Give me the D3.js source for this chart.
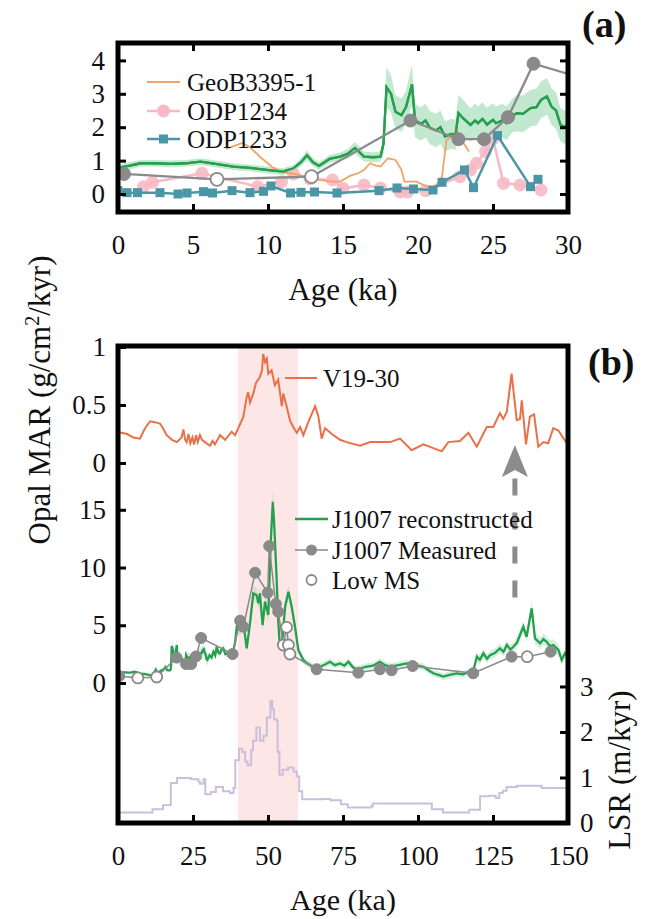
<!DOCTYPE html>
<html>
<head>
<meta charset="utf-8">
<script src="https://cdn.jsdelivr.net/npm/d3@7"></script>
<style>
    body { margin: 0; background: #fff; }
    svg text { font-family: "Liberation Serif", "Times New Roman", serif; fill: #111; }
</style>
</head>
<body>
<svg id="chart" width="647" height="919"></svg>
<script>
'use strict';

// ---- panel (a) records, [age ka, opal MAR] ----
let geoB = [[7.2,1.35],[7.8,1.45],[8.3,1.53],[8.8,1.4],[9.5,1.1],[10.3,0.8],[11.0,0.65],[11.8,0.6],[12.5,0.52],[13.2,0.45],[14.0,0.38],[14.8,0.37],[15.5,0.55],[16.0,0.62],[16.4,0.72],[16.8,0.92],[17.2,0.85],[17.5,0.82],[18.0,1.07],[18.5,1.02],[18.9,0.72],[19.1,0.37],[19.9,0.37],[20.6,0.22],[21.0,0.2],[21.4,0.35],[21.6,0.52],[21.9,1.62],[22.2,1.7],[22.6,1.92],[22.9,1.62],[23.4,1.27]];
let odp1234 = [[1.7,0.22],[2.3,0.35],[5.6,0.62],[9.3,0.22],[10.9,0.37],[11.7,0.6],[12.8,0.45],[14.3,0.42],[15.0,0.17],[16.4,0.27],[17.5,0.18],[18.8,0.06],[19.3,0.06],[20.5,0.1],[22.8,0.52],[23.5,0.72],[23.9,0.92],[24.5,1.27],[25.0,1.65],[25.7,0.32],[26.8,0.27],[28.2,0.12]];
let odp1233 = [[0.0,0.1],[0.6,0.04],[1.3,0.04],[2.8,0.04],[4.0,0.0],[4.6,0.03],[5.7,0.07],[6.3,0.03],[7.6,0.1],[8.8,0.04],[9.7,0.08],[10.2,0.24],[11.5,0.03],[12.2,0.05],[13.1,0.06],[14.6,0.03],[17.4,0.1],[18.6,0.18],[19.7,0.15],[21.0,0.12],[21.6,0.35],[23.1,0.72],[23.7,0.19],[25.3,1.75],[27.5,0.22],[28.0,0.44]];

// ---- J1007, shared by both panels ----
// reconstructed: [age, value, band half width]
let j1007Rec = [[0,0.78,0.1],[0.8,0.85,0.1],[1.5,0.92,0.1],[2.5,0.92,0.1],[3.5,0.9,0.1],[4.5,0.92,0.1],[5.5,0.97,0.1],[6.5,0.9,0.1],[7.7,0.82,0.1],[8.8,0.78,0.1],[9.9,0.72,0.1],[11.0,0.67,0.1],[11.7,0.77,0.1],[12.2,0.95,0.12],[12.6,1.16,0.15],[13.0,0.95,0.12],[13.4,0.84,0.12],[14.1,1.05,0.12],[14.8,1.12,0.12],[15.3,1.2,0.15],[15.8,1.38,0.18],[16.4,1.12,0.15],[17.0,1.1,0.15],[17.5,1.12,0.15],[17.7,1.5,0.3],[17.9,3.2,0.6],[18.2,3.0,0.55],[18.5,2.46,0.5],[18.9,2.36,0.5],[19.2,2.6,0.5],[19.6,3.28,0.6],[19.8,2.2,0.5],[20.2,2.1,0.5],[20.5,2.2,0.5],[20.8,1.98,0.5],[21.2,1.9,0.5],[21.5,2.0,0.5],[21.8,1.72,0.45],[22.2,1.8,0.45],[22.5,1.77,0.45],[22.7,2.42,0.55],[23.0,2.27,0.55],[23.5,2.07,0.5],[23.8,2.2,0.5],[24.0,2.12,0.5],[24.3,2.25,0.5],[24.6,2.08,0.5],[25.0,2.22,0.5],[25.2,2.12,0.5],[25.6,2.2,0.5],[25.9,2.12,0.5],[26.3,2.35,0.5],[26.6,2.42,0.55],[27.0,2.4,0.55],[27.5,2.57,0.55],[27.9,2.6,0.55],[28.2,2.82,0.55],[28.6,2.92,0.55],[28.9,2.62,0.55],[29.2,2.5,0.55],[29.5,2.07,0.5],[29.8,2.0,0.5],[30.5,2.4,0.3],[31.2,2.2,0.3],[31.8,2.71,0.3],[32.4,2.4,0.3],[32.9,3.14,0.3],[33.5,2.6,0.3],[34.0,2.57,0.3],[34.5,2.9,0.3],[35.1,3.0,0.3],[35.8,2.5,0.3],[36.8,2.57,0.3],[37.9,2.4,0.3],[38.5,2.9,0.4],[39.0,3.43,0.4],[39.6,4.87,0.5],[40.7,4.59,0.5],[41.8,5.17,0.5],[42.9,3.0,0.4],[44.0,5.17,0.5],[45.1,7.77,0.6],[46.2,7.6,0.6],[46.8,6.9,0.6],[47.3,7.77,0.6],[48.2,5.02,0.5],[49.0,7.04,0.6],[50.1,5.89,0.6],[50.9,12.1,0.8],[51.6,15.7,1.0],[52.0,14.1,0.9],[52.9,8.9,0.7],[53.4,5.45,0.5],[54.0,3.0,0.4],[54.9,4.0,0.4],[55.7,6.6,0.5],[56.8,7.9,0.6],[57.9,6.6,0.5],[59.0,4.87,0.5],[60.1,2.86,0.4],[61.8,1.99,0.3],[63.0,1.7,0.3],[64.0,1.56,0.3],[65.5,1.3,0.3],[67.3,1.41,0.3],[69.0,1.6,0.3],[70.7,1.84,0.3],[72.3,1.55,0.3],[74.0,1.7,0.3],[75.5,1.5,0.3],[76.8,1.84,0.3],[78.2,1.4,0.3],[79.6,1.13,0.3],[81.2,1.3,0.3],[82.9,1.41,0.3],[85.0,1.5,0.3],[87.3,1.84,0.3],[89.0,1.55,0.3],[90.7,1.41,0.3],[93.5,1.55,0.3],[96.2,1.7,0.3],[99.0,1.55,0.3],[101.8,1.41,0.3],[103.5,1.1,0.3],[105.1,0.84,0.3],[106.8,0.7,0.3],[108.4,0.55,0.3],[110.5,0.7,0.3],[112.9,0.84,0.3],[115.0,0.75,0.3],[117.3,1.0,0.3],[118.5,1.1,0.3],[119.6,2.28,0.4],[120.6,2.0,0.4],[121.8,2.57,0.4],[123.0,2.1,0.4],[124.0,2.4,0.4],[125.6,2.6,0.4],[127.3,3.0,0.4],[128.5,2.7,0.4],[129.6,3.29,0.4],[130.8,2.9,0.4],[131.8,3.14,0.4],[133.0,3.5,0.5],[134.0,4.16,0.5],[135.1,4.87,0.5],[136.2,4.0,0.5],[137.9,6.47,0.6],[139.0,3.86,0.5],[140.7,3.43,0.5],[141.8,3.8,0.5],[142.9,3.57,0.5],[144.0,3.2,0.5],[145.1,3.29,0.5],[146.8,2.86,0.5],[147.9,2.0,0.4],[149.0,2.57,0.4],[150,2.3,0.4]];
// measured: [age, value, lowMS]
let j1007Meas = [[0.4,0.6,0],[6.6,0.44,1],[12.9,0.52,1],[19.5,2.2,0],[22.7,1.64,0],[24.4,1.64,0],[26.0,2.3,0],[27.7,3.9,0],[38.2,2.51,0],[40.7,5.4,0],[41.8,4.87,0],[45.7,9.55,0],[49.9,7.82,0],[50.4,11.86,0],[52.6,6.84,0],[53.4,6.17,0],[55.1,3.29,1],[56.2,4.82,1],[56.8,3.29,1],[57.3,2.51,1],[66.2,1.19,0],[80.1,0.89,0],[87.3,1.19,0],[91.2,1.1,0],[98.2,1.47,0],[118.4,0.84,0],[131.2,2.28,0],[136.4,2.28,1],[144.2,2.71,0]];

// ---- panel (b) ----
let v1930 = [[0,0.27],[1.2,0.26],[3,0.25],[5.1,0.22],[7.3,0.21],[9,0.3],[10.7,0.36],[12.5,0.35],[14,0.34],[15,0.3],[16.2,0.24],[18,0.2],[19.6,0.18],[21.2,0.22],[21.8,0.29],[22.4,0.2],[22.9,0.18],[23.5,0.25],[24.1,0.17],[24.8,0.22],[25.4,0.16],[26.0,0.24],[26.6,0.18],[27.3,0.24],[28.0,0.2],[29.0,0.18],[30.0,0.16],[30.7,0.15],[31.5,0.19],[32.3,0.16],[34,0.24],[35.7,0.2],[37.9,0.27],[39,0.24],[40.1,0.3],[41.8,0.4],[42.9,0.57],[43.4,0.61],[44,0.52],[45.1,0.6],[46,0.69],[47.3,0.74],[48.0,0.8],[48.4,0.94],[49,0.87],[49.6,0.9],[50.1,0.77],[51.2,0.8],[52.3,0.67],[53.4,0.72],[54.6,0.49],[55.1,0.6],[56.2,0.49],[57.3,0.37],[58.4,0.31],[59.6,0.26],[60.7,0.31],[61.8,0.24],[63.4,0.35],[65.7,0.49],[66.8,0.4],[67.9,0.21],[69,0.3],[71.8,0.24],[74,0.2],[76.2,0.18],[80.7,0.15],[84,0.18],[90.7,0.18],[94,0.21],[97.9,0.11],[101.8,0.16],[107.9,0.1],[110.1,0.18],[114,0.19],[116.8,0.26],[119.6,0.14],[122.9,0.31],[125.1,0.31],[127.3,0.43],[128.4,0.38],[129.6,0.44],[131.2,0.77],[132.9,0.37],[134,0.38],[134.6,0.54],[136,0.16],[137.3,0.4],[138.7,0.42],[140.1,0.14],[141.8,0.18],[143.4,0.17],[145.1,0.3],[146.8,0.28],[149.3,0.18],[150,0.17]];
let lsr = [[0,0.23],[11.5,0.3],[15,0.39],[17.6,0.88],[19.7,0.99],[24.4,0.96],[26.8,0.91],[27.3,0.86],[28.5,0.96],[29.1,0.63],[30.9,0.68],[32.6,0.79],[35,0.7],[37.3,0.66],[38.5,0.77],[39.1,1.38],[40.3,1.63],[41.4,1.56],[42.4,1.35],[43.2,1.27],[44.4,1.6],[45,1.81],[46.1,2.1],[47.3,1.81],[48.5,1.92],[49.6,2.32],[50.8,2.68],[51.4,2.5],[52,2.28],[52.9,2.24],[53.2,1.56],[53.8,1.06],[54.9,1.17],[56.7,1.22],[58.5,1.13],[59.6,1.02],[60.4,0.7],[61.4,0.52],[68.4,0.53],[70.8,0.5],[74.3,0.41],[76.6,0.34],[84.3,0.36],[84.9,0.43],[104.2,0.43],[104.6,0.3],[108.3,0.23],[117.1,0.29],[120.7,0.59],[123.6,0.6],[125.9,0.55],[127.1,0.66],[128.3,0.71],[129.5,0.79],[133,0.82],[136.5,0.82],[141.2,0.77],[150,0.75]];

let ageTicksA = [0, 5, 10, 15, 20, 25, 30];
let marTicksA = [0, 1, 2, 3, 4];
let ageTicksB = [0, 25, 50, 75, 100, 125, 150];
let v19Ticks = [0, 0.5, 1];
let j1007Ticks = [0, 5, 10, 15];
let lsrTicks = [0, 1, 2, 3];
let shadeAges = [40, 60];
let arrowAge = 132.3;

let svg = d3.select("#chart");

let green = "#26a04e", gray = "#8a8a8a";
let fmt = d3.format("~g");

function frameAndClip(id, x0, y0, x1, y1) {
    svg.append("clipPath").attr("id", id)
        .append("rect").attr("x", x0).attr("y", y0).attr("width", x1 - x0).attr("height", y1 - y0);
    return svg.append("g").attr("clip-path", "url(#" + id + ")");
}

function styleAxis(g, labels) {
    g.select(".domain").remove();
    g.selectAll(".tick line").attr("stroke", "#000").attr("stroke-width", 3);
    g.selectAll(".tick text").attr("font-size", 27).attr("fill", "#111");
    if (!labels) g.selectAll(".tick text").remove();
}

function drawRec(g, x, y, bandOpacity) {
    g.append("path").datum(j1007Rec)
        .attr("fill", "#86d3a2").attr("opacity", bandOpacity)
        .attr("d", d3.area().x(d => x(d[0])).y0(d => y(d[1] - d[2])).y1(d => y(d[1] + d[2])));
    g.append("path").datum(j1007Rec)
        .attr("fill", "none").attr("stroke", green).attr("stroke-width", 2.3)
        .attr("d", d3.line().x(d => x(d[0])).y(d => y(d[1])));
}

function drawMeas(g, x, y, lw, r) {
    g.append("path").datum(j1007Meas)
        .attr("fill", "none").attr("stroke", gray).attr("stroke-width", lw)
        .attr("d", d3.line().x(d => x(d[0])).y(d => y(d[1])));
    g.selectAll(null).data(j1007Meas).enter().append("circle")
        .attr("cx", d => x(d[0])).attr("cy", d => y(d[1])).attr("r", r)
        .attr("fill", d => d[2] ? "#fff" : gray)
        .attr("stroke", gray).attr("stroke-width", d => d[2] ? 1.8 : 1);
}

// ================= panel (a) =================
let xA = d3.scaleLinear().domain([0, 30]).range([118, 568]);
let yA = d3.scaleLinear().domain([0, 4]).range([194, 60.4]);
let gA = frameAndClip("clipA", 118, 43, 568, 212);

drawRec(gA, xA, yA, 0.5);

gA.append("path").datum(odp1234)
    .attr("fill", "none").attr("stroke", "#f7b9c4").attr("stroke-width", 2.5)
    .attr("d", d3.line().x(d => xA(d[0])).y(d => yA(d[1])));
gA.selectAll(null).data(odp1234).enter().append("circle")
    .attr("cx", d => xA(d[0])).attr("cy", d => yA(d[1])).attr("r", 6.5)
    .attr("fill", "#f7b9c4").attr("opacity", 0.9);

gA.append("path").datum(geoB)
    .attr("fill", "none").attr("stroke", "#f0a466").attr("stroke-width", 1.8)
    .attr("d", d3.line().x(d => xA(d[0])).y(d => yA(d[1])));

// green on top of the thin records
gA.append("path").datum(j1007Rec)
    .attr("fill", "none").attr("stroke", green).attr("stroke-width", 2.3)
    .attr("d", d3.line().x(d => xA(d[0])).y(d => yA(d[1])));

gA.append("path").datum(odp1233)
    .attr("fill", "none").attr("stroke", "#4b96a6").attr("stroke-width", 2.5)
    .attr("d", d3.line().x(d => xA(d[0])).y(d => yA(d[1])));
gA.selectAll(null).data(odp1233).enter().append("rect")
    .attr("x", d => xA(d[0]) - 4.5).attr("y", d => yA(d[1]) - 4.5)
    .attr("width", 9).attr("height", 9).attr("fill", "#4b96a6");

drawMeas(gA, xA, yA, 2.3, 6.5);

svg.append("g").attr("transform", "translate(0,212)")
    .call(d3.axisBottom(xA).tickValues(ageTicksA).tickFormat(fmt).tickSize(-8).tickPadding(23))
    .call(g => styleAxis(g, true));
svg.append("g").attr("transform", "translate(0,43)")
    .call(d3.axisTop(xA).tickValues(ageTicksA).tickSize(-8))
    .call(g => styleAxis(g, false));
svg.append("g").attr("transform", "translate(118,0)")
    .call(d3.axisLeft(yA).tickValues(marTicksA).tickFormat(fmt).tickSize(-8).tickPadding(13))
    .call(g => styleAxis(g, true));
svg.append("g").attr("transform", "translate(568,0)")
    .call(d3.axisRight(yA).tickValues(marTicksA).tickSize(-8))
    .call(g => styleAxis(g, false));

svg.append("rect").attr("x", 118).attr("y", 43).attr("width", 450).attr("height", 169)
    .attr("fill", "none").attr("stroke", "#000").attr("stroke-width", 5);

// legend (a)
let legA = [
    {name: "GeoB3395-1", color: "#f0a466", mark: null, y: 82},
    {name: "ODP1234", color: "#f7b9c4", mark: "circle", y: 111},
    {name: "ODP1233", color: "#4b96a6", mark: "square", y: 139}
];
legA.forEach(function(d) {
    svg.append("line").attr("x1", 147).attr("x2", 180).attr("y1", d.y).attr("y2", d.y)
        .attr("stroke", d.color).attr("stroke-width", d.mark ? 2.5 : 1.8);
    if (d.mark === "circle") {
        svg.append("circle").attr("cx", 163.5).attr("cy", d.y).attr("r", 6.5).attr("fill", d.color);
    } else if (d.mark === "square") {
        svg.append("rect").attr("x", 159).attr("y", d.y - 4.5).attr("width", 9).attr("height", 9).attr("fill", d.color);
    }
    svg.append("text").attr("x", 187).attr("y", d.y + 8.5).attr("font-size", 25).text(d.name);
});

svg.append("text").attr("x", 582).attr("y", 37).attr("font-size", 38).attr("font-weight", "bold").text("(a)");
svg.append("text").attr("x", 343).attr("y", 300).attr("text-anchor", "middle").attr("font-size", 31).text("Age (ka)");

// ================= panel (b) =================
let xB = d3.scaleLinear().domain([0, 150]).range([118, 568]);
let yV = d3.scaleLinear().domain([0, 1]).range([463, 347]);
let yJ = d3.scaleLinear().domain([0, 15]).range([683, 509.8]);
let yL = d3.scaleLinear().domain([0, 3]).range([823, 686.5]);
let gB = frameAndClip("clipB", 118, 346, 568, 823);

gB.append("rect").attr("x", xB(shadeAges[0])).attr("y", 346)
    .attr("width", xB(shadeAges[1]) - xB(shadeAges[0])).attr("height", 477)
    .attr("fill", "#fde6e6");

gB.append("path").datum(v1930)
    .attr("fill", "none").attr("stroke", "#e8714a").attr("stroke-width", 2)
    .attr("d", d3.line().x(d => xB(d[0])).y(d => yV(d[1])));

gB.append("path").datum(lsr)
    .attr("fill", "none").attr("stroke", "#cbbfdb").attr("stroke-width", 2)
    .attr("d", d3.line().curve(d3.curveStepAfter).x(d => xB(d[0])).y(d => yL(d[1])));

drawRec(gB, xB, yJ, 0.35);
drawMeas(gB, xB, yJ, 1.5, 5.5);

// dashed arrow
let ax = xB(arrowAge), tipY = yV(0.155), baseY = tipY + 32;
gB.append("line").attr("x1", ax).attr("x2", ax).attr("y1", yJ(7.4)).attr("y2", baseY - 2)
    .attr("stroke", "#8c8c8c").attr("stroke-width", 5).attr("stroke-dasharray", "17,17");
gB.append("path")
    .attr("d", "M" + ax + "," + tipY + "L" + (ax + 13) + "," + baseY + "L" + ax + "," + (baseY - 7) + "L" + (ax - 13) + "," + baseY + "Z")
    .attr("fill", "#8c8c8c");

svg.append("g").attr("transform", "translate(0,823)")
    .call(d3.axisBottom(xB).tickValues(ageTicksB).tickFormat(fmt).tickSize(-8).tickPadding(23))
    .call(g => styleAxis(g, true));
svg.append("g").attr("transform", "translate(118,0)")
    .call(d3.axisLeft(yV).tickValues(v19Ticks).tickFormat(fmt).tickSize(-8).tickPadding(12))
    .call(g => styleAxis(g, true));
svg.append("g").attr("transform", "translate(118,0)")
    .call(d3.axisLeft(yJ).tickValues(j1007Ticks).tickFormat(fmt).tickSize(-8).tickPadding(12))
    .call(g => styleAxis(g, true));
svg.append("g").attr("transform", "translate(568,0)")
    .call(d3.axisRight(yL).tickValues(lsrTicks).tickFormat(fmt).tickSize(-8).tickPadding(12))
    .call(g => styleAxis(g, true));

svg.append("rect").attr("x", 118).attr("y", 346).attr("width", 450).attr("height", 477)
    .attr("fill", "none").attr("stroke", "#000").attr("stroke-width", 5);

// legend (b)
svg.append("line").attr("x1", 285).attr("x2", 317).attr("y1", 378).attr("y2", 378)
    .attr("stroke", "#e8714a").attr("stroke-width", 2);
svg.append("text").attr("x", 323).attr("y", 387).attr("font-size", 25).text("V19-30");

let legB = [
    {name: "J1007 reconstructed", y: 519},
    {name: "J1007 Measured", y: 550},
    {name: "Low MS", y: 580}
];
legB.forEach(function(d, i) {
    if (i === 0) {
        svg.append("line").attr("x1", 295).attr("x2", 328).attr("y1", d.y).attr("y2", d.y)
            .attr("stroke", green).attr("stroke-width", 2.3);
    } else if (i === 1) {
        svg.append("line").attr("x1", 295).attr("x2", 328).attr("y1", d.y).attr("y2", d.y)
            .attr("stroke", gray).attr("stroke-width", 1.5);
        svg.append("circle").attr("cx", 311.5).attr("cy", d.y).attr("r", 5.5).attr("fill", gray);
    } else {
        svg.append("circle").attr("cx", 311.5).attr("cy", d.y).attr("r", 5)
            .attr("fill", "#fff").attr("stroke", gray).attr("stroke-width", 1.8);
    }
    svg.append("text").attr("x", 332).attr("y", d.y + 8.5).attr("font-size", 25).text(d.name);
});

svg.append("text").attr("x", 588).attr("y", 375).attr("font-size", 38).attr("font-weight", "bold").text("(b)");
svg.append("text").attr("x", 343).attr("y", 910).attr("text-anchor", "middle").attr("font-size", 30).text("Age (ka)");

// axis titles
let opal = svg.append("text").attr("transform", "translate(50,400) rotate(-90)")
    .attr("text-anchor", "middle").attr("font-size", 31);
opal.append("tspan").text("Opal MAR (g/cm");
opal.append("tspan").attr("font-size", 20).attr("dy", -11).text("2");
opal.append("tspan").attr("dy", 11).text("/kyr)");

svg.append("text").attr("transform", "translate(630,770) rotate(-90)")
    .attr("text-anchor", "middle").attr("font-size", 31).text("LSR (m/kyr)");
</script>
</body>
</html>
